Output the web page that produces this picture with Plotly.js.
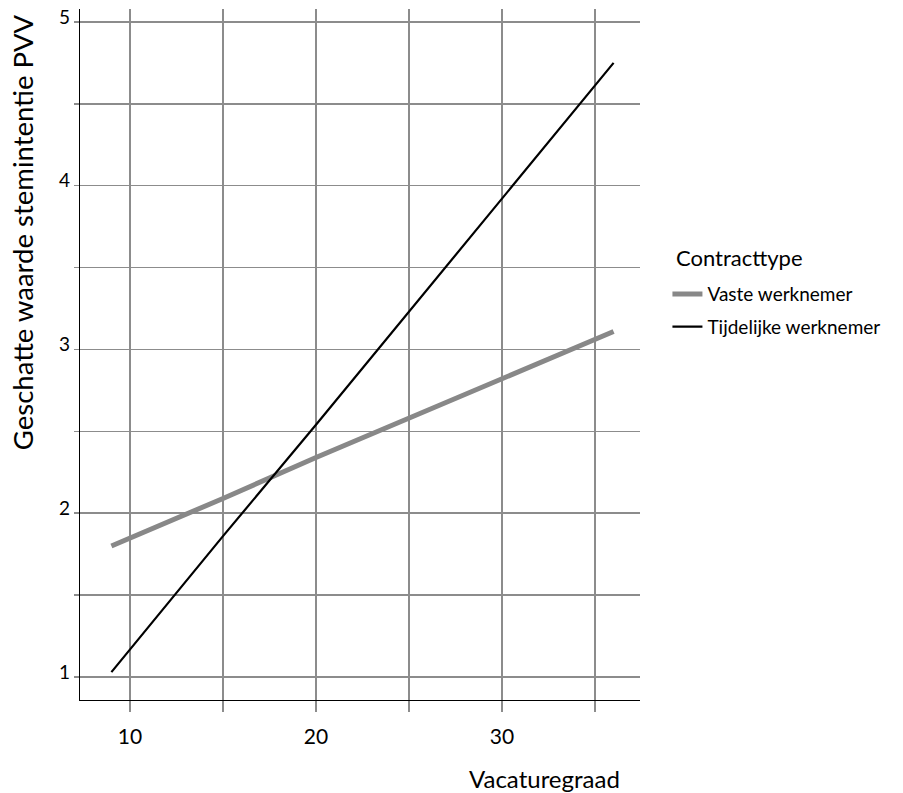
<!DOCTYPE html>
<html>
<head>
<meta charset="utf-8">
<script src="https://cdn.plot.ly/plotly-3.0.1.min.js"></script>
<style>html,body{margin:0;padding:0;background:#fff;}#chart{width:903px;height:793px;}</style>
</head>
<body>
<div id="chart"></div>
<script>
const vacaturegraad = [9, 15, 20, 25, 30, 36];
const vasteWerknemer = [1.80, 2.09, 2.34, 2.58, 2.82, 3.11];
const tijdelijkeWerknemer = [1.03, 1.86, 2.54, 3.23, 3.92, 4.75];
const seriesNames = ['Vaste werknemer', 'Tijdelijke werknemer'];
const xTickVals = [10, 20, 30];
const yTickVals = [1, 2, 3, 4, 5];
const legendTitle = 'Contracttype';
const xTitle = 'Vacaturegraad';
const yTitle = 'Geschatte waarde stemintentie PVV';

const FONT = 'Lato, "Open Sans", sans-serif';
const GRID = 'rgb(140,140,140)';

const traces = [
  {x: vacaturegraad, y: vasteWerknemer, name: seriesNames[0], mode: 'lines', legendgroup: 'a',
   line: {color: 'rgb(136,136,136)', width: 5}},
  {x: vacaturegraad, y: tijdelijkeWerknemer, name: seriesNames[1], mode: 'lines', legendgroup: 'b',
   line: {color: '#000000', width: 2.2}}
];

const layout = {
  width: 903, height: 793,
  margin: {l: 80, r: 263, t: 9, b: 93},
  paper_bgcolor: '#fff', plot_bgcolor: '#fff',
  font: {family: FONT, color: '#000', size: 18},
  showlegend: true,
  legend: {
    x: 1.049, y: 0.615, xanchor: 'left', yanchor: 'top',
    font: {size: 19}, itemwidth: 30, tracegroupgap: 5
  },
  xaxis: {
    range: [7.312, 37.42], tickvals: xTickVals, ticktext: xTickVals.map(String),
    showgrid: true, gridcolor: GRID, gridwidth: 1.5,
    ticks: 'outside', ticklen: 11, tickcolor: GRID, tickwidth: 1.5,
    showline: true, linecolor: '#000', linewidth: 1.2,
    zeroline: false, tickfont: {size: 21}, ticklabelstandoff: 7,
    minor: {dtick: 5, tick0: 10, showgrid: true, gridcolor: GRID, gridwidth: 1.5,
            ticks: 'outside', ticklen: 11, tickcolor: GRID, tickwidth: 1.5}
  },
  yaxis: {
    range: [0.8595, 5.079], tickvals: yTickVals, ticktext: yTickVals.map(String),
    showgrid: true, gridcolor: GRID, gridwidth: 1.5,
    ticks: 'outside', ticklen: 5, tickcolor: GRID, tickwidth: 1.5,
    showline: true, linecolor: '#000', linewidth: 1.2,
    zeroline: false, tickfont: {size: 19}, ticklabelshift: -5, ticklabelstandoff: 0,
    minor: {dtick: 0.5, tick0: 1, showgrid: true, gridcolor: GRID, gridwidth: 1.5,
            ticks: 'outside', ticklen: 5, tickcolor: GRID, tickwidth: 1.5}
  },
  annotations: [
    {text: xTitle, xref: 'paper', yref: 'paper', x: 0.968, y: -0.113,
     xanchor: 'right', yanchor: 'middle', showarrow: false, font: {size: 24}},
    {text: yTitle, xref: 'paper', yref: 'paper', x: -0.1036, y: 0.677,
     xanchor: 'center', yanchor: 'middle', textangle: -90, showarrow: false, font: {size: 27.5}},
    {text: legendTitle, xref: 'paper', yref: 'paper', x: 1.0607, y: 0.6397,
     xanchor: 'left', yanchor: 'middle', showarrow: false, font: {size: 22}}
  ]
};

Plotly.newPlot('chart', traces, layout, {displayModeBar: false, staticPlot: true});
</script>
</body>
</html>
